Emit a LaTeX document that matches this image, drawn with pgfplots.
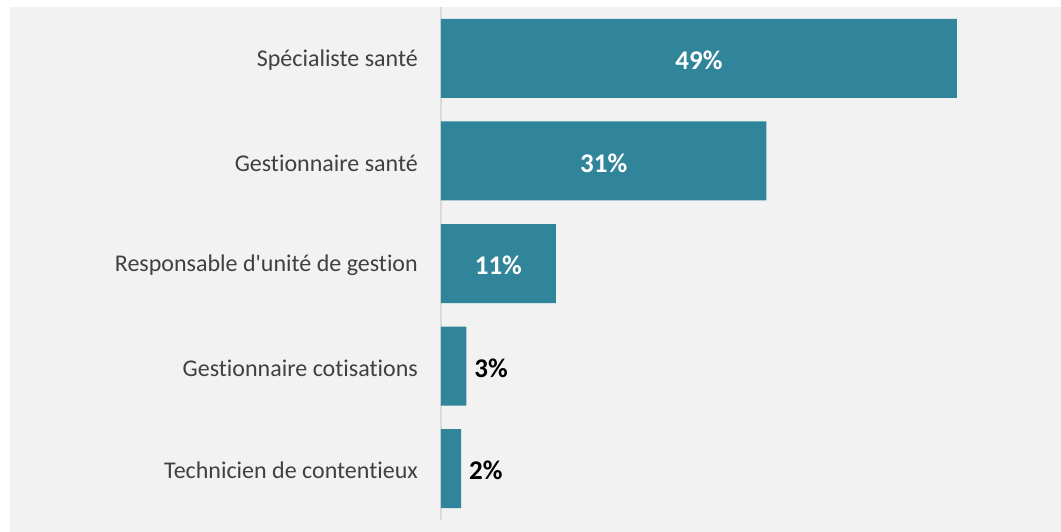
\documentclass[border=0pt]{standalone}
\usepackage{pgfplots}
\pgfplotsset{compat=1.18}
\usepackage{fontspec}
\setmainfont{Carlito}[Ligatures={NoCommon}]
\definecolor{barc}{RGB}{49,133,155}
\definecolor{bg}{RGB}{242,242,242}
\definecolor{txt}{RGB}{64,64,64}
\definecolor{axl}{RGB}{217,217,217}
\begin{document}
\begin{tikzpicture}[x=1pt,y=1pt]
\fill[white] (0,0) rectangle (1061,532);
\fill[bg] (10,0) rectangle (1061,525);
\begin{axis}[
  at={(441pt,12pt)}, anchor=south west,
  scale only axis, width=610.7pt, height=513pt,
  xmin=0, xmax=58, ymin=-0.5, ymax=4.5, y dir=reverse,
  xbar, bar width=79pt, bar shift=0pt,
  axis x line=none, axis y line*=left,
  y axis line style={draw=axl, line width=2pt, -},
  ytick={0,1,2,3,4},
  yticklabels={Spécialiste santé, Gestionnaire santé, Responsable d\textquotesingle unité de gestion, Gestionnaire cotisations, Technicien de contentieux},
  major tick length=0pt, tick style={draw=none},
  yticklabel style={font=\fontsize{24}{28}\selectfont, text=txt, inner sep=0pt, xshift=-23pt, yshift=-2pt},
  clip=false,
]
\addplot[fill=barc, draw=none, nodes near coords={\pgfplotspointmeta\%}, point meta=explicit symbolic,
  visualization depends on={rawx \as \rawx},
  nodes near coords style={anchor=center, xshift=-5.265pt*\rawx, yshift=-2pt, text=white, font=\bfseries\fontsize{27}{30}\selectfont}]
  table[x=x, y=y, meta=lab] {
x y lab
49 0 49
30.9 1 31
10.9 2 11
};
\addplot[fill=barc, draw=none, nodes near coords={\pgfplotspointmeta\%}, point meta=explicit symbolic,
  nodes near coords style={anchor=west, inner sep=0pt, xshift=8pt, yshift=-2pt, text=black, font=\bfseries\fontsize{27}{30}\selectfont}]
  table[x=x, y=y, meta=lab] {
x y lab
2.4 3 3
1.9 4 2
};
\end{axis}
\end{tikzpicture}
\end{document}
